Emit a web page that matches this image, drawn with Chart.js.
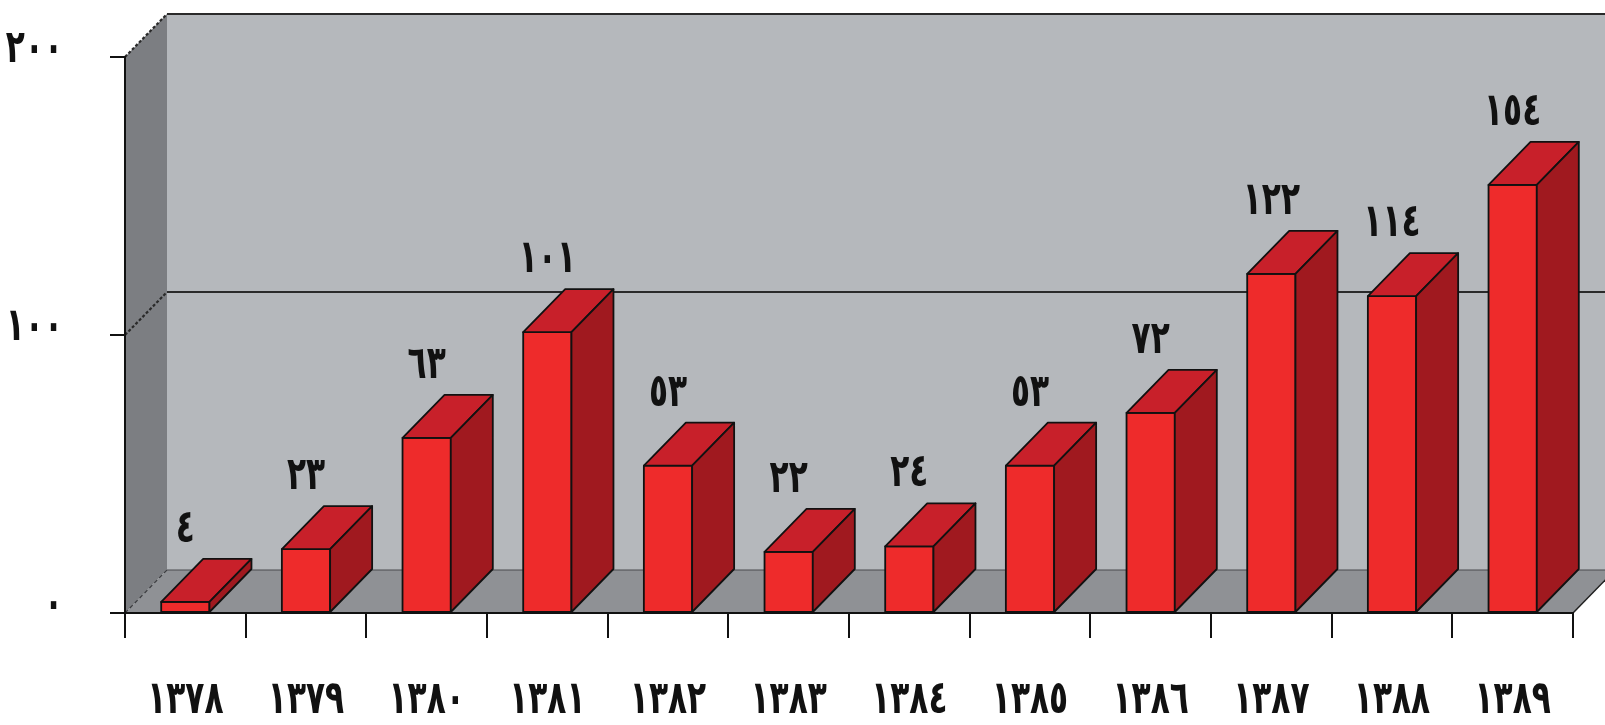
<!DOCTYPE html>
<html>
<head>
<meta charset="utf-8">
<script src="https://cdn.jsdelivr.net/npm/chart.js@4.4.1/dist/chart.umd.min.js"></script>
<style>
  html, body { margin: 0; padding: 0; background: #ffffff; }
  #wrap { width: 1605px; height: 725px; position: relative; }
</style>
</head>
<body>
<div id="wrap"><canvas id="c" width="1605" height="725"></canvas></div>
<script>
// Years (Solar Hijri) and yearly counts
const years = ['١٣٧٨', '١٣٧٩', '١٣٨٠', '١٣٨١', '١٣٨٢', '١٣٨٣', '١٣٨٤', '١٣٨٥', '١٣٨٦', '١٣٨٧', '١٣٨٨', '١٣٨٩'];
const counts = [4, 23, 63, 101, 53, 22, 24, 53, 72, 122, 114, 154];
const yTicks = [0, 100, 200];
const yTickLabels = ['٠', '١٠٠', '٢٠٠'];

const arabicDigits = '٠١٢٣٤٥٦٧٨٩';
const toArabic = n => String(n).replace(/\d/g, d => arabicDigits[+d]);

// depth of the 3D box (pixels to the right and up)
const DX = 42, DY = 43;
const FONT = '"DejaVu Sans", sans-serif';
const TEXT_FONT = 'bold 46px ' + FONT;
const SQUEEZE = 0.68;   // narrow the digits horizontally

const colors = {
  backWall: '#b5b8bc',
  sideWall: '#7c7e82',
  floor: '#8f9195',
  front: '#ee2b2b',
  top: '#c8202a',
  side: '#a0191f',
  line: '#111111',
  text: '#111111'
};

function poly(ctx, pts, fill, stroke, lw) {
  ctx.beginPath();
  ctx.moveTo(pts[0][0], pts[0][1]);
  for (let i = 1; i < pts.length; i++) ctx.lineTo(pts[i][0], pts[i][1]);
  ctx.closePath();
  if (fill) { ctx.fillStyle = fill; ctx.fill(); }
  if (stroke) { ctx.strokeStyle = stroke; ctx.lineWidth = lw || 1.5; ctx.stroke(); }
}

// narrow text drawn centred / right aligned at (x, baseline y)
function narrowText(ctx, str, x, y, align) {
  ctx.save();
  ctx.font = TEXT_FONT;
  ctx.fillStyle = colors.text;
  ctx.textAlign = align;
  ctx.textBaseline = 'alphabetic';
  ctx.translate(x, y);
  ctx.scale(SQUEEZE, 1);
  ctx.fillText(str, 0, 0);
  ctx.restore();
}

const boxPlugin = {
  id: 'box3d',
  beforeDraw(chart) {
    const ctx = chart.ctx;
    const xs = chart.scales.x, ys = chart.scales.y;
    const L = xs.left, R = xs.right;
    const y0 = ys.getPixelForValue(0), yTop = ys.getPixelForValue(200);
    const W = chart.width + 60;
    ctx.save();
    // back wall
    poly(ctx, [[L + DX, yTop - DY], [W, yTop - DY], [W, y0 - DY], [L + DX, y0 - DY]], colors.backWall);
    // left wall
    poly(ctx, [[L, yTop], [L + DX, yTop - DY], [L + DX, y0 - DY], [L, y0]], colors.sideWall);
    // floor
    poly(ctx, [[L, y0], [L + DX, y0 - DY], [W, y0 - DY], [R + DX, y0 - DY], [R, y0]], colors.floor);
    poly(ctx, [[L, y0], [L + DX, y0 - DY], [R + DX, y0 - DY], [R, y0]], colors.floor);
    // gridlines on the walls
    ctx.strokeStyle = '#2a2a2a';
    ctx.lineWidth = 2.2;
    yTicks.forEach(v => {
      if (v === 0) return;
      const y = ys.getPixelForValue(v);
      ctx.beginPath();
      ctx.moveTo(L + DX, y - DY);
      ctx.lineTo(W, y - DY);
      ctx.stroke();
    });
    // gridline edges across the left wall
    ctx.setLineDash([3, 2]);
    yTicks.forEach(v => {
      if (v === 0) return;
      const y = ys.getPixelForValue(v);
      ctx.beginPath();
      ctx.moveTo(L, y);
      ctx.lineTo(L + DX, y - DY);
      ctx.stroke();
    });
    ctx.setLineDash([]);
    // back floor edge and floor right edge
    ctx.strokeStyle = '#4a4b4e';
    ctx.lineWidth = 1.2;
    ctx.beginPath();
    ctx.moveTo(L + DX, y0 - DY); ctx.lineTo(W, y0 - DY);
    ctx.stroke();
    ctx.strokeStyle = '#222';
    ctx.lineWidth = 1.5;
    ctx.beginPath();
    ctx.moveTo(R, y0); ctx.lineTo(R + DX, y0 - DY);
    ctx.stroke();
    // dashed corner edge of the floor on the left
    ctx.setLineDash([4, 3]);
    ctx.strokeStyle = '#3a3b3e';
    ctx.lineWidth = 1.2;
    ctx.beginPath();
    ctx.moveTo(L, y0); ctx.lineTo(L + DX, y0 - DY);
    ctx.stroke();
    ctx.setLineDash([]);
    ctx.restore();
  },
  afterDatasetsDraw(chart) {
    const ctx = chart.ctx;
    const meta = chart.getDatasetMeta(0);
    ctx.save();
    ctx.lineJoin = 'round';
    meta.data.forEach((bar, i) => {
      const p = bar.getProps(['x', 'y', 'base', 'width'], true);
      const x1 = p.x - p.width / 2, x2 = p.x + p.width / 2;
      const yt = p.y, yb = p.base;
      // front face
      poly(ctx, [[x1, yt], [x2, yt], [x2, yb], [x1, yb]], colors.front, colors.line, 1.8);
      // top face
      poly(ctx, [[x1, yt], [x1 + DX, yt - DY], [x2 + DX, yt - DY], [x2, yt]], colors.top, colors.line, 1.8);
      // side face
      poly(ctx, [[x2, yt], [x2 + DX, yt - DY], [x2 + DX, yb - DY], [x2, yb]], colors.side, colors.line, 1.8);
      // value label above the bar
      narrowText(ctx, toArabic(counts[i]), p.x, yt - DY - 17, 'center');
    });
    ctx.restore();
  },
  afterDraw(chart) {
    const ctx = chart.ctx;
    const xs = chart.scales.x, ys = chart.scales.y;
    // category labels
    years.forEach((lbl, i) => {
      narrowText(ctx, lbl, xs.getPixelForTick(i), 713, 'center');
    });
    // value-axis labels
    yTicks.forEach((v, i) => {
      narrowText(ctx, yTickLabels[i], 63, ys.getPixelForValue(v) + 5, 'right');
    });
  }
};

new Chart(document.getElementById('c'), {
  type: 'bar',
  data: {
    labels: years,
    datasets: [{
      data: counts,
      backgroundColor: 'rgba(0,0,0,0)',
      borderWidth: 0,
      barPercentage: 0.4,
      categoryPercentage: 1.0
    }]
  },
  options: {
    responsive: false,
    animation: false,
    events: [],
    layout: { padding: { top: 57, right: 32, left: 0, bottom: 0 } },
    plugins: { legend: { display: false }, tooltip: { enabled: false } },
    scales: {
      x: {
        offset: true,
        grid: { offset: true, drawOnChartArea: false, color: '#111', lineWidth: 2, tickLength: 25 },
        border: { color: '#111', width: 2 },
        ticks: { display: false },
        afterFit(s) { s.height = 112; }
      },
      y: {
        min: 0, max: 200,
        afterBuildTicks(s) { s.ticks = yTicks.map(v => ({ value: v })); },
        grid: { drawOnChartArea: false, color: '#111', lineWidth: 2, tickLength: 15 },
        border: { color: '#111', width: 2 },
        ticks: { display: false },
        afterFit(s) { s.width = 125; }
      }
    }
  },
  plugins: [boxPlugin]
});
</script>
</body>
</html>
